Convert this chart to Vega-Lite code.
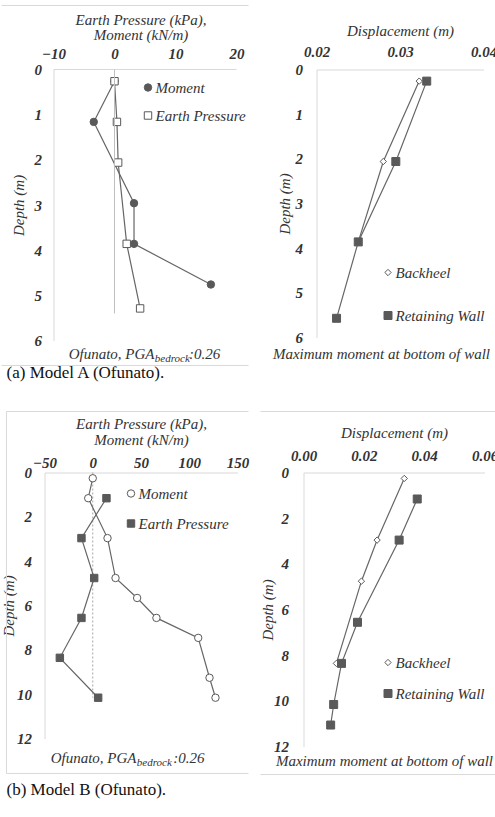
{
"$schema":"https://vega.github.io/schema/vega-lite/v6.json",
"padding":{"left":0.5,"top":4.5,"right":0,"bottom":0},
"bounds":"flush",
"spacing":403,
"resolve":{"scale":{"x":"independent","y":"independent","fill":"independent","shape":"independent","size":"independent","stroke":"independent"},"legend":{"fill":"independent","shape":"independent","size":"independent","stroke":"independent"}},
"config":{
 "view":{"stroke":null},
 "axis":{"grid":false,"ticks":false,"tickSize":0,"domainColor":"#d9d9d9","domainWidth":1,"labelFont":"Liberation Serif","labelFontSize":15,"labelFontStyle":"italic","labelFontWeight":"bold","labelColor":"#333333","titleFont":"Liberation Serif","titleFontSize":15,"titleFontStyle":"italic","titleFontWeight":"normal","titleColor":"#333333","labelFlush":false,"labelOverlap":false},
 "legend":{"orient":"none","title":null,"padding":0,"labelFont":"Liberation Serif","labelFontSize":15,"labelFontStyle":"italic","labelColor":"#333333","labelOffset":0,"symbolStrokeWidth":1},
 "text":{"font":"Liberation Serif"}
},
"vconcat":[
 {"hconcat":[
  {"width":192,"height":271,
   "data":{"values":[
    {"series":"Moment","depth":0.26,"value":0},
    {"series":"Moment","depth":1.16,"value":-3.4},
    {"series":"Moment","depth":2.96,"value":3.2},
    {"series":"Moment","depth":3.86,"value":3.2},
    {"series":"Moment","depth":4.76,"value":15.8},
    {"series":"Earth Pressure","depth":0.26,"value":0},
    {"series":"Earth Pressure","depth":1.16,"value":0.4},
    {"series":"Earth Pressure","depth":2.06,"value":0.6},
    {"series":"Earth Pressure","depth":3.86,"value":2.0},
    {"series":"Earth Pressure","depth":5.29,"value":4.2}
   ]},
   "layer":[
    {"mark":{"type":"line","color":"#666666","strokeWidth":1.2},
     "encoding":{
      "x":{"field":"value","type":"quantitative","scale":{"domain":[-11.475,20],"nice":false,"zero":false},
           "axis":{"orient":"top","values":[-10,0,10,20],"domain":false,"title":["Earth Pressure (kPa),","Moment (kN/m)"],"titleLineHeight":15,"labelPadding":8.5,"titlePadding":4}},
      "y":{"field":"depth","type":"quantitative","scale":{"domain":[0,6],"reverse":true,"nice":false,"zero":false},
           "axis":{"values":[0,1,2,3,4,5,6],"offset":-9,"title":"Depth (m)","labelPadding":12,"titlePadding":8}},
      "detail":{"field":"series"},
      "order":{"field":"depth"}}},
    {"mark":{"type":"point","filled":true,"strokeWidth":1,"opacity":1,"size":55},
     "encoding":{
      "x":{"field":"value","type":"quantitative"},
      "y":{"field":"depth","type":"quantitative"},
      "shape":{"field":"series","scale":{"domain":["Moment","Earth Pressure"],"range":["circle","square"]},"legend":{"legendX":96,"legendY":10.5,"rowPadding":12,"symbolSize":55}},
      "fill":{"field":"series","scale":{"domain":["Moment","Earth Pressure"],"range":["#595959","#ffffff"]},"legend":{"legendX":96,"legendY":10.5,"rowPadding":12,"symbolSize":55}},
      "stroke":{"field":"series","scale":{"domain":["Moment","Earth Pressure"],"range":["#595959","#595959"]},"legend":{"legendX":96,"legendY":10.5,"rowPadding":12,"symbolSize":55}}}},
    {"data":{"values":[{}]},"mark":{"type":"rule","color":"#d9d9d9","strokeWidth":1},"encoding":{"x":{"datum":-18.52},"x2":{"datum":21.97},"y":{"datum":-1.417}}},
    {"data":{"values":[{}]},"mark":{"type":"rule","color":"#d9d9d9","strokeWidth":1},"encoding":{"x":{"datum":-18.52},"x2":{"datum":21.97},"y":{"datum":6.553}}},
    {"data":{"values":[{}]},"mark":{"type":"rule","color":"#d9d9d9","strokeWidth":1},"encoding":{"x":{"datum":-10},"x2":{"datum":20},"y":{"datum":0}}},
    {"data":{"values":[{}]},"mark":{"type":"rule","color":"#bfbfbf","strokeWidth":1},"encoding":{"x":{"datum":0},"y":{"datum":0},"y2":{"datum":5.4}}},
    {"data":{"values":[{}]},"mark":{"type":"text","align":"right","baseline":"middle","fontStyle":"italic","fontSize":15,"color":"#333333"},"encoding":{"x":{"datum":6.56},"y":{"datum":6.29},"text":{"value":"Ofunato, PGA"}}},
    {"data":{"values":[{}]},"mark":{"type":"text","align":"left","baseline":"middle","fontStyle":"italic","fontSize":11,"color":"#333333"},"encoding":{"x":{"datum":6.6},"y":{"datum":6.4},"text":{"value":"bedrock"}}},
    {"data":{"values":[{}]},"mark":{"type":"text","align":"left","baseline":"middle","fontStyle":"italic","fontSize":15,"color":"#333333"},"encoding":{"x":{"datum":12.2},"y":{"datum":6.29},"text":{"value":":0.26"}}},
    {"data":{"values":[{}]},"mark":{"type":"text","align":"left","baseline":"middle","fontSize":17,"color":"#111111"},"encoding":{"x":{"datum":-17.7},"y":{"datum":6.71},"text":{"value":"(a) Model A (Ofunato)."}}}
   ]},
  {"width":167,"height":268,
   "data":{"values":[
    {"series":"Backheel","depth":0.26,"value":0.0323},
    {"series":"Backheel","depth":2.06,"value":0.0280},
    {"series":"Backheel","depth":3.86,"value":0.0250},
    {"series":"Retaining Wall","depth":0.26,"value":0.0332},
    {"series":"Retaining Wall","depth":2.06,"value":0.0295},
    {"series":"Retaining Wall","depth":3.86,"value":0.0250},
    {"series":"Retaining Wall","depth":5.57,"value":0.0224}
   ]},
   "layer":[
    {"mark":{"type":"line","color":"#666666","strokeWidth":1.2},
     "encoding":{
      "x":{"field":"value","type":"quantitative","scale":{"domain":[0.02,0.04],"nice":false,"zero":false},
           "axis":{"orient":"top","values":[0.02,0.03,0.04],"format":".2f","title":"Displacement (m)","labelPadding":10.5,"titlePadding":6}},
      "y":{"field":"depth","type":"quantitative","scale":{"domain":[0,6],"reverse":true,"nice":false,"zero":false},
           "axis":{"values":[0,1,2,3,4,5,6],"title":"Depth (m)","labelPadding":14,"titlePadding":3}},
      "detail":{"field":"series"},
      "order":{"field":"depth"}}},
    {"mark":{"type":"point","filled":true,"strokeWidth":1,"opacity":1},
     "encoding":{
      "x":{"field":"value","type":"quantitative"},
      "y":{"field":"depth","type":"quantitative"},
      "shape":{"field":"series","scale":{"domain":["Backheel","Retaining Wall"],"range":["diamond","square"]},"legend":{"legendX":64,"legendY":195.5,"rowPadding":27}},
      "fill":{"field":"series","scale":{"domain":["Backheel","Retaining Wall"],"range":["#ffffff","#595959"]},"legend":{"legendX":64,"legendY":195.5,"rowPadding":27}},
      "stroke":{"field":"series","scale":{"domain":["Backheel","Retaining Wall"],"range":["#595959","#595959"]},"legend":{"legendX":64,"legendY":195.5,"rowPadding":27}},
      "size":{"field":"series","scale":{"domain":["Backheel","Retaining Wall"],"range":[40,64]},"legend":{"legendX":64,"legendY":195.5,"rowPadding":27}}}},
    {"data":{"values":[{}]},"mark":{"type":"text","align":"center","baseline":"middle","fontStyle":"italic","fontSize":15,"color":"#333333"},"encoding":{"x":{"datum":0.02778},"y":{"datum":6.36},"text":{"value":"Maximum moment at bottom of wall"}}}
   ]}
 ],"spacing":80,"bounds":"flush",
 "resolve":{"scale":{"x":"independent","y":"independent","fill":"independent","shape":"independent","size":"independent","stroke":"independent"},"legend":{"fill":"independent","shape":"independent","size":"independent","stroke":"independent"}}},
 {"hconcat":[
  {"width":193,"height":266,
   "data":{"values":[
    {"series":"Moment","depth":0.26,"value":0},
    {"series":"Moment","depth":1.16,"value":-4.7},
    {"series":"Moment","depth":2.96,"value":15.3},
    {"series":"Moment","depth":4.76,"value":23.6},
    {"series":"Moment","depth":5.66,"value":46},
    {"series":"Moment","depth":6.56,"value":66},
    {"series":"Moment","depth":7.46,"value":109.3},
    {"series":"Moment","depth":9.26,"value":121},
    {"series":"Moment","depth":10.16,"value":127.2},
    {"series":"Earth Pressure","depth":1.16,"value":14.2},
    {"series":"Earth Pressure","depth":2.96,"value":-11.7},
    {"series":"Earth Pressure","depth":4.76,"value":1.5},
    {"series":"Earth Pressure","depth":6.56,"value":-11.7},
    {"series":"Earth Pressure","depth":8.36,"value":-34.1},
    {"series":"Earth Pressure","depth":10.16,"value":5.6}
   ]},
   "layer":[
    {"data":{"values":[{}]},"mark":{"type":"rule","color":"#a6a6a6","strokeWidth":1,"strokeDash":[2,2]},"encoding":{"x":{"datum":0},"y":{"datum":0},"y2":{"datum":10.16}}},
    {"mark":{"type":"line","color":"#666666","strokeWidth":1.2},
     "encoding":{
      "x":{"field":"value","type":"quantitative","scale":{"domain":[-50,150],"nice":false,"zero":false},
           "axis":{"orient":"top","values":[-50,0,50,100,150],"title":["Earth Pressure (kPa),","Moment (kN/m)"],"titleLineHeight":16,"labelPadding":2.5,"titlePadding":8}},
      "y":{"field":"depth","type":"quantitative","scale":{"domain":[0,12],"reverse":true,"nice":false,"zero":false},
           "axis":{"values":[0,2,4,6,8,10,12],"title":"Depth (m)","labelPadding":13,"titlePadding":0}},
      "detail":{"field":"series"},
      "order":{"field":"depth"}}},
    {"mark":{"type":"point","filled":true,"strokeWidth":1,"opacity":1,"size":55},
     "encoding":{
      "x":{"field":"value","type":"quantitative"},
      "y":{"field":"depth","type":"quantitative"},
      "shape":{"field":"series","scale":{"domain":["Moment","Earth Pressure"],"range":["circle","square"]},"legend":{"legendX":79,"legendY":13.5,"rowPadding":14,"symbolSize":55}},
      "fill":{"field":"series","scale":{"domain":["Moment","Earth Pressure"],"range":["#ffffff","#595959"]},"legend":{"legendX":79,"legendY":13.5,"rowPadding":14,"symbolSize":55}},
      "stroke":{"field":"series","scale":{"domain":["Moment","Earth Pressure"],"range":["#595959","#595959"]},"legend":{"legendX":79,"legendY":13.5,"rowPadding":14,"symbolSize":55}}}},
    {"data":{"values":[{}]},"mark":{"type":"rule","color":"#d9d9d9","strokeWidth":1},"encoding":{"x":{"datum":-89.4},"x2":{"datum":161.4},"y":{"datum":-2.751}}},
    {"data":{"values":[{}]},"mark":{"type":"rule","color":"#d9d9d9","strokeWidth":1},"encoding":{"x":{"datum":-89.4},"x2":{"datum":161.4},"y":{"datum":13.577}}},
    {"data":{"values":[{}]},"mark":{"type":"rule","color":"#d9d9d9","strokeWidth":1},"encoding":{"x":{"datum":-89.4},"y":{"datum":-2.751},"y2":{"datum":13.577}}},
    {"data":{"values":[{}]},"mark":{"type":"text","align":"right","baseline":"middle","fontStyle":"italic","fontSize":15,"color":"#333333"},"encoding":{"x":{"datum":45.3},"y":{"datum":12.9},"text":{"value":"Ofunato, PGA"}}},
    {"data":{"values":[{}]},"mark":{"type":"text","align":"left","baseline":"middle","fontStyle":"italic","fontSize":11,"color":"#333333"},"encoding":{"x":{"datum":45.6},"y":{"datum":13.1},"text":{"value":"bedrock"}}},
    {"data":{"values":[{}]},"mark":{"type":"text","align":"left","baseline":"middle","fontStyle":"italic","fontSize":15,"color":"#333333"},"encoding":{"x":{"datum":83.5},"y":{"datum":12.9},"text":{"value":":0.26"}}},
    {"data":{"values":[{}]},"mark":{"type":"text","align":"left","baseline":"middle","fontSize":17,"color":"#111111"},"encoding":{"x":{"datum":-89.4},"y":{"datum":14.34},"text":{"value":"(b) Model B (Ofunato)."}}}
   ]},
  {"width":181,"height":274,
   "data":{"values":[
    {"series":"Backheel","depth":0.26,"value":0.0334},
    {"series":"Backheel","depth":2.96,"value":0.0244},
    {"series":"Backheel","depth":4.76,"value":0.0192},
    {"series":"Backheel","depth":8.36,"value":0.0109},
    {"series":"Retaining Wall","depth":1.16,"value":0.0377},
    {"series":"Retaining Wall","depth":2.96,"value":0.0317},
    {"series":"Retaining Wall","depth":6.56,"value":0.0179},
    {"series":"Retaining Wall","depth":8.36,"value":0.0126},
    {"series":"Retaining Wall","depth":10.16,"value":0.0100},
    {"series":"Retaining Wall","depth":11.06,"value":0.0090}
   ]},
   "layer":[
    {"mark":{"type":"line","color":"#666666","strokeWidth":1.2},
     "encoding":{
      "x":{"field":"value","type":"quantitative","scale":{"domain":[0,0.06],"nice":false,"zero":false},
           "axis":{"orient":"top","values":[0,0.02,0.04,0.06],"format":".2f","title":"Displacement (m)","labelPadding":9.5,"titlePadding":8}},
      "y":{"field":"depth","type":"quantitative","scale":{"domain":[0,12],"reverse":true,"nice":false,"zero":false},
           "axis":{"values":[0,2,4,6,8,10,12],"title":"Depth (m)","labelPadding":15,"titlePadding":-2}},
      "detail":{"field":"series"},
      "order":{"field":"depth"}}},
    {"mark":{"type":"point","filled":true,"strokeWidth":1,"opacity":1},
     "encoding":{
      "x":{"field":"value","type":"quantitative"},
      "y":{"field":"depth","type":"quantitative"},
      "shape":{"field":"series","scale":{"domain":["Backheel","Retaining Wall"],"range":["diamond","square"]},"legend":{"legendX":77,"legendY":182.5,"rowPadding":15}},
      "fill":{"field":"series","scale":{"domain":["Backheel","Retaining Wall"],"range":["#ffffff","#595959"]},"legend":{"legendX":77,"legendY":182.5,"rowPadding":15}},
      "stroke":{"field":"series","scale":{"domain":["Backheel","Retaining Wall"],"range":["#595959","#595959"]},"legend":{"legendX":77,"legendY":182.5,"rowPadding":15}},
      "size":{"field":"series","scale":{"domain":["Backheel","Retaining Wall"],"range":[40,64]},"legend":{"legendX":77,"legendY":182.5,"rowPadding":15}}}},
    {"data":{"values":[{}]},"mark":{"type":"rule","color":"#d9d9d9","strokeWidth":1},"encoding":{"x":{"datum":-0.01425},"x2":{"datum":0.064},"y":{"datum":-2.672}}},
    {"data":{"values":[{}]},"mark":{"type":"rule","color":"#d9d9d9","strokeWidth":1},"encoding":{"x":{"datum":-0.01425},"x2":{"datum":0.064},"y":{"datum":13.228}}},
    {"data":{"values":[{}]},"mark":{"type":"text","align":"center","baseline":"middle","fontStyle":"italic","fontSize":15,"color":"#333333"},"encoding":{"x":{"datum":0.02685},"y":{"datum":12.65},"text":{"value":"Maximum moment at bottom of wall"}}}
   ]}
 ],"spacing":66,"bounds":"flush",
 "resolve":{"scale":{"x":"independent","y":"independent","fill":"independent","shape":"independent","size":"independent","stroke":"independent"},"legend":{"fill":"independent","shape":"independent","size":"independent","stroke":"independent"}}}
]
}
